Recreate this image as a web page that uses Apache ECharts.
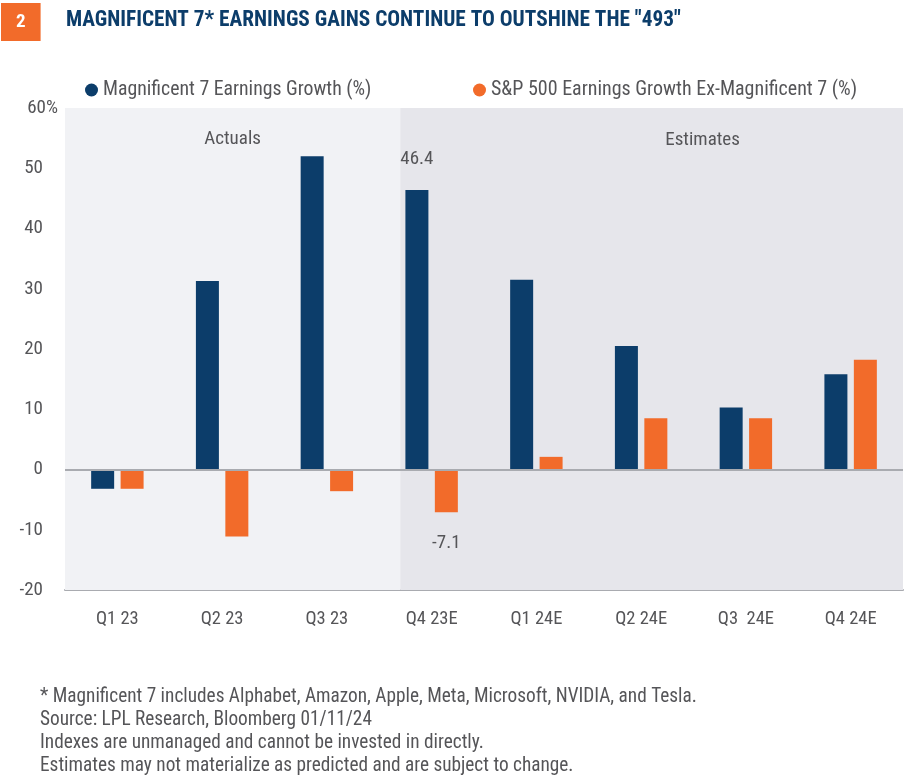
<!DOCTYPE html>
<html>
<head>
<meta charset="utf-8">
<script src="https://cdn.jsdelivr.net/npm/echarts@6/dist/echarts.min.js"></script>
<style>
  html, body { margin: 0; padding: 0; background: #ffffff; }
  #chart { width: 905px; height: 780px; }
</style>
</head>
<body>
<div id="chart"></div>
<script>
const categories = ['Q1 23', 'Q2 23', 'Q3 23', 'Q4 23E', 'Q1 24E', 'Q2 24E', 'Q3  24E', 'Q4 24E'];
const mag7Growth = [-3.2, 31.3, 52.0, 46.4, 31.5, 20.5, 10.3, 15.8];
const sp493Growth = [-3.2, -11.1, -3.6, -7.1, 2.1, 8.5, 8.5, 18.2];
const yTicks = { min: -20, max: 60, interval: 10 };
const labelledIndex = 3;
const seriesNames = ['Magnificent 7 Earnings Growth (%)', 'S&P 500 Earnings Growth Ex-Magnificent 7 (%)'];
const regionNames = ['Actuals', 'Estimates'];
const estimatesStart = 3.2;
const footnotes = [
  '* Magnificent 7 includes Alphabet, Amazon, Apple, Meta, Microsoft, NVIDIA, and Tesla.',
  'Source: LPL Research, Bloomberg 01/11/24',
  'Indexes are unmanaged and cannot be invested in directly.',
  'Estimates may not materialize as predicted and are subject to change.'
];

const FONT = '"Liberation Sans Narrow", "Roboto Condensed", "DejaVu Sans Condensed", "Noto Sans", sans-serif';
const NAVY = '#0c3d6a';
const ORANGE = '#f26b2a';
const TEXT = '#555558';

const chart = echarts.init(document.getElementById('chart'));

const mag7Data = mag7Growth.map((v, i) => i === labelledIndex
  ? { value: v, label: { show: true, position: 'top', distance: 21, color: TEXT, fontSize: 19, fontFamily: FONT, formatter: p => p.value.toFixed(1) } }
  : v);
const spData = sp493Growth.map((v, i) => i === labelledIndex
  ? { value: v, label: { show: true, position: 'bottom', distance: 21, color: TEXT, fontSize: 19, fontFamily: FONT, formatter: p => p.value.toFixed(1) } }
  : v);

chart.setOption({
  animation: false,
  backgroundColor: '#ffffff',
  textStyle: { fontFamily: FONT },
  title: [
    {
      text: '2', left: 1, top: 3,
      backgroundColor: ORANGE,
      padding: [8, 15, 8, 15],
      textStyle: { color: '#ffffff', fontSize: 19, fontWeight: 'bold', lineHeight: 22, fontFamily: FONT }
    },
    {
      text: 'MAGNIFICENT 7* EARNINGS GAINS CONTINUE TO OUTSHINE THE "493"',
      left: 62, top: 10, padding: [0, 4],
      textStyle: { color: NAVY, fontSize: 21.3, fontWeight: 'bold', fontFamily: FONT }
    },
    {
      text: footnotes.join('\n'),
      left: 36, top: 686, padding: [0, 4],
      textStyle: { color: TEXT, fontSize: 19.3, fontWeight: 'normal', lineHeight: 23, fontFamily: FONT }
    }
  ],
  legend: [
    {
      data: [seriesNames[0]], left: 80, top: 75, icon: 'circle', itemWidth: 13, itemHeight: 13, itemGap: 6,
      textStyle: { color: TEXT, fontSize: 19.8, fontFamily: FONT }
    },
    {
      data: [seriesNames[1]], left: 468, top: 75, icon: 'circle', itemWidth: 13, itemHeight: 13, itemGap: 6,
      textStyle: { color: TEXT, fontSize: 20, fontFamily: FONT }
    }
  ],
  grid: { left: 65, right: 2, top: 108, bottom: 190, containLabel: false },
  xAxis: [
    {
      type: 'category', data: categories,
      axisLine: { onZero: false, lineStyle: { color: '#a9abb0', width: 2 } },
      axisTick: { show: false },
      axisLabel: { color: TEXT, fontSize: 18.5, margin: 20, fontFamily: FONT }
    },
    { type: 'value', min: 0, max: categories.length, show: false }
  ],
  yAxis: {
    type: 'value', min: yTicks.min, max: yTicks.max, interval: yTicks.interval,
    splitLine: { show: false }, axisLine: { show: false }, axisTick: { show: false },
    axisLabel: {
      color: TEXT, fontSize: 19, margin: 7, fontFamily: FONT,
      formatter: v => v === yTicks.max ? v + '{pct|%}' : v + '{pad|}',
      rich: {
        pct: { color: TEXT, fontSize: 19, fontFamily: FONT },
        pad: { width: 15 }
      }
    }
  },
  series: [
    {
      type: 'line', xAxisIndex: 1, data: [], silent: true,
      markArea: {
        silent: true,
        data: [
          [{ xAxis: 0, itemStyle: { color: '#f1f2f5' }, label: { show: true, position: 'insideTop', distance: 22, color: TEXT, fontSize: 19, fontFamily: FONT }, name: regionNames[0] }, { xAxis: estimatesStart }],
          [{ xAxis: estimatesStart, itemStyle: { color: '#e6e6eb' }, label: { show: true, position: 'insideTop', distance: 23, offset: [51, 0], color: TEXT, fontSize: 19, fontFamily: FONT }, name: regionNames[1] }, { xAxis: categories.length }]
        ]
      }
    },
    {
      name: seriesNames[0], type: 'bar', data: mag7Data,
      barWidth: 23, barGap: '28%',
      itemStyle: { color: NAVY },
      markLine: {
        silent: true, symbol: 'none', label: { show: false },
        lineStyle: { color: '#a9abb0', width: 2, type: 'solid' },
        data: [{ yAxis: 0 }]
      },
      z: 3
    },
    {
      name: seriesNames[1], type: 'bar', data: spData,
      barWidth: 23,
      itemStyle: { color: ORANGE },
      z: 3
    }
  ]
});
</script>
</body>
</html>
